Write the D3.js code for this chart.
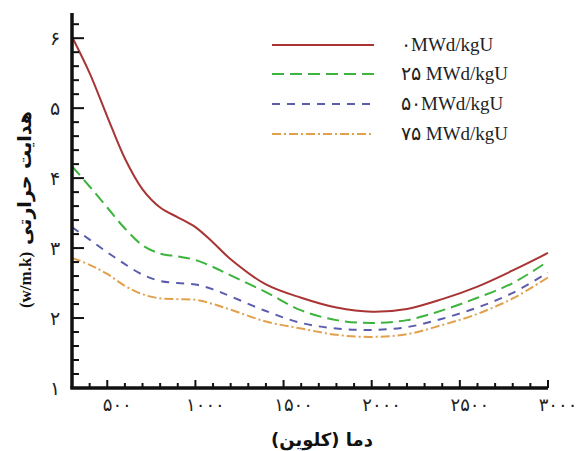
<!DOCTYPE html>
<html>
<head>
<meta charset="utf-8">
<script src="https://cdn.jsdelivr.net/npm/d3@7"></script>
<style>
  body { margin: 0; background: #fff; }
  svg { display: block; }
</style>
</head>
<body>
<svg id="chart" width="579" height="451"></svg>
<script>
// temperature (K) and conductivity for each burnup level
const temps = [300, 400, 500, 600, 700, 800, 900, 1000, 1100, 1200, 1400, 1600, 1800, 2000, 2200, 2400, 2600, 2800, 3000];
const burn0 = [6.02, 5.50, 4.88, 4.28, 3.84, 3.58, 3.44, 3.30, 3.08, 2.84, 2.48, 2.29, 2.15, 2.09, 2.13, 2.27, 2.45, 2.68, 2.93];
const burn25 = [4.17, 3.88, 3.58, 3.28, 3.04, 2.92, 2.88, 2.83, 2.73, 2.61, 2.37, 2.11, 1.97, 1.93, 1.97, 2.11, 2.29, 2.50, 2.81];
const burn50 = [3.30, 3.12, 2.94, 2.77, 2.62, 2.53, 2.50, 2.48, 2.41, 2.31, 2.10, 1.93, 1.85, 1.83, 1.87, 1.99, 2.15, 2.36, 2.65];
const burn75 = [2.86, 2.76, 2.63, 2.46, 2.34, 2.28, 2.27, 2.26, 2.20, 2.12, 1.95, 1.85, 1.76, 1.73, 1.77, 1.90, 2.06, 2.28, 2.58];

const seriesLabels = ['۰MWd/kgU', '۲۵ MWd/kgU', '۵۰MWd/kgU', '۷۵ MWd/kgU'];
const xTicks = [500, 1000, 1500, 2000, 2500, 3000];
const yTicks = [1, 2, 3, 4, 5, 6];

const faDigits = n => String(n).replace(/\d/g, d => '۰۱۲۳۴۵۶۷۸۹'[d]);

const series = [
  { values: burn0, color: '#a83434', dash: null },
  { values: burn25, color: '#3db43d', dash: '12,6' },
  { values: burn50, color: '#5c5cae', dash: '8,7' },
  { values: burn75, color: '#e2a04c', dash: '9,3,2,3' }
];

const svg = d3.select('#chart');

const x = d3.scaleLinear().domain([300, 3000]).range([72, 548]);
const y = d3.scaleLinear().domain([1, 6.36]).range([388, 13]);

// curves
const line = d3.line()
  .x((d, i) => x(temps[i]))
  .y(d => y(d))
  .curve(d3.curveCatmullRom.alpha(0.5));

svg.append('g').selectAll('path')
  .data(series)
  .join('path')
  .attr('d', s => line(s.values))
  .attr('fill', 'none')
  .attr('stroke', s => s.color)
  .attr('stroke-width', 2)
  .attr('stroke-dasharray', s => s.dash);

// axes (ticks drawn inward)
const axisColor = '#111';
const yAxis = svg.append('g').attr('transform', `translate(${x(300)},0)`);
yAxis.append('line')
  .attr('x1', 0).attr('x2', 0)
  .attr('y1', y(6.36)).attr('y2', y(1))
  .attr('stroke', axisColor).attr('stroke-width', 3.5);
yAxis.selectAll('line.minor')
  .data(d3.range(1, 6.3, 0.2))
  .join('line')
  .attr('class', 'minor')
  .attr('x1', 0).attr('x2', d => Math.abs(d - Math.round(d)) < 0.01 ? 12 : 7)
  .attr('y1', d => y(d)).attr('y2', d => y(d))
  .attr('stroke', axisColor).attr('stroke-width', 2);
yAxis.selectAll('text')
  .data(yTicks)
  .join('text')
  .attr('x', -17)
  .attr('y', d => y(d))
  .attr('dy', '0.35em')
  .attr('text-anchor', 'middle')
  .attr('font-family', 'DejaVu Sans, sans-serif')
  .attr('font-size', 19)
  .attr('fill', '#222')
  .text(d => faDigits(d));

const xAxis = svg.append('g').attr('transform', `translate(0,${y(1)})`);
xAxis.append('line')
  .attr('x1', x(300) - 1.75).attr('x2', x(3000))
  .attr('y1', 0).attr('y2', 0)
  .attr('stroke', axisColor).attr('stroke-width', 3.5);
xAxis.selectAll('line.minor')
  .data(d3.range(400, 3001, 100))
  .join('line')
  .attr('class', 'minor')
  .attr('x1', d => x(d)).attr('x2', d => x(d))
  .attr('y1', 0).attr('y2', d => d % 500 === 0 ? -8 : -5)
  .attr('stroke', axisColor).attr('stroke-width', 2);
xAxis.selectAll('text')
  .data(xTicks)
  .join('text')
  .attr('x', d => x(d) + 10)
  .attr('y', 23)
  .attr('text-anchor', 'middle')
  .attr('font-family', 'DejaVu Sans, sans-serif')
  .attr('font-size', 18)
  .attr('fill', '#222')
  .text(d => faDigits(d));

// axis titles
const yTitle = svg.append('g').attr('transform', 'translate(31,0) rotate(-90)');
yTitle.append('text')
  .attr('x', -178).attr('y', 0)
  .attr('text-anchor', 'middle')
  .attr('font-family', 'DejaVu Sans, sans-serif')
  .attr('font-weight', 'bold')
  .attr('font-size', 19)
  .attr('direction', 'rtl')
  .attr('fill', '#111')
  .text('هدایت حرارتی');
yTitle.append('text')
  .attr('x', -280).attr('y', 0)
  .attr('text-anchor', 'middle')
  .attr('font-family', 'Liberation Serif, serif')
  .attr('font-weight', 'bold')
  .attr('font-size', 17)
  .attr('fill', '#111')
  .text('(w/m.k)');

svg.append('text')
  .attr('x', 322).attr('y', 446)
  .attr('text-anchor', 'middle')
  .attr('direction', 'rtl')
  .attr('font-family', 'DejaVu Sans, sans-serif')
  .attr('font-weight', 'bold')
  .attr('font-size', 18)
  .attr('fill', '#111')
  .text('دما (کلوین)');

// legend
const legendY = [45, 74, 104, 134];
const legend = svg.append('g');
legend.selectAll('line')
  .data(series)
  .join('line')
  .attr('x1', 272).attr('x2', 374)
  .attr('y1', (s, i) => legendY[i]).attr('y2', (s, i) => legendY[i])
  .attr('stroke', s => s.color)
  .attr('stroke-width', 2)
  .attr('stroke-dasharray', s => s.dash);
legend.selectAll('text')
  .data(seriesLabels)
  .join('text')
  .attr('x', 401)
  .attr('y', (d, i) => legendY[i])
  .attr('dy', '0.3em')
  .attr('font-family', 'Liberation Serif, serif')
  .attr('font-size', 19)
  .attr('fill', '#222')
  .text(d => d);
</script>
</body>
</html>
